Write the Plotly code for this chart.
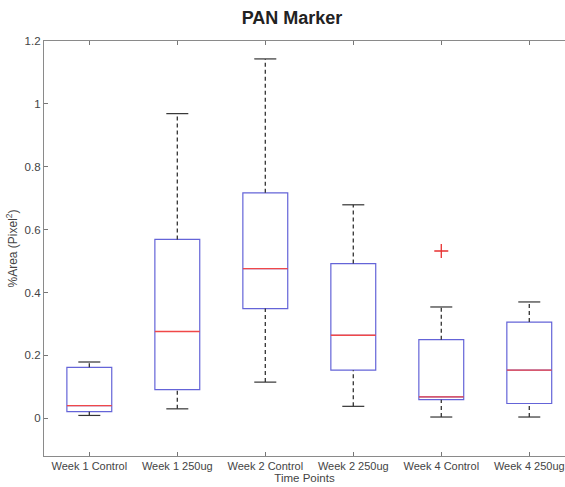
import plotly.graph_objects as go

categories = ["Week 1 Control", "Week 1 250ug", "Week 2 Control", "Week 2 250ug", "Week 4 Control", "Week 4 250ug"]
positions = [1, 2, 3, 4, 5, 6]
lower_whisker = [0.009, 0.030, 0.115, 0.038, 0.004, 0.004]
q1 = [0.021, 0.091, 0.349, 0.153, 0.059, 0.047]
median = [0.040, 0.276, 0.476, 0.264, 0.068, 0.153]
q3 = [0.162, 0.569, 0.717, 0.492, 0.250, 0.306]
upper_whisker = [0.179, 0.969, 1.143, 0.679, 0.354, 0.370]
outlier_x = [5]
outlier_y = [0.532]
y_ticks = [0, 0.2, 0.4, 0.6, 0.8, 1, 1.2]

BOX_W = 0.51
CAP_W = 0.25
FONT = "Liberation Sans, Arial, sans-serif"

fig = go.Figure()

# boxes (no whiskers: fences at quartiles)
fig.add_trace(go.Box(
    x=positions, q1=q1, median=median, q3=q3,
    lowerfence=q1, upperfence=q3,
    width=BOX_W, fillcolor="rgba(255,255,255,0)",
    line=dict(color="#6464d8", width=1.2),
    whiskerwidth=0, boxpoints=False, hoverinfo="skip", showlegend=False,
))

# dashed whiskers
wx, wy = [], []
for p, a, b, c, d in zip(positions, lower_whisker, q1, q3, upper_whisker):
    wx += [p, p, None, p, p, None]
    wy += [a, b, None, c, d, None]
fig.add_trace(go.Scatter(x=wx, y=wy, mode="lines",
                         line=dict(color="#333333", width=1.3, dash="4px,3px"),
                         hoverinfo="skip", showlegend=False))

# caps
cx, cy = [], []
for p, a, d in zip(positions, lower_whisker, upper_whisker):
    cx += [p - CAP_W / 2, p + CAP_W / 2, None, p - CAP_W / 2, p + CAP_W / 2, None]
    cy += [a, a, None, d, d, None]
fig.add_trace(go.Scatter(x=cx, y=cy, mode="lines",
                         line=dict(color="#333333", width=1.2),
                         hoverinfo="skip", showlegend=False))

# red medians
mx, my = [], []
for p, m in zip(positions, median):
    mx += [p - BOX_W / 2, p + BOX_W / 2, None]
    my += [m, m, None]
fig.add_trace(go.Scatter(x=mx, y=my, mode="lines",
                         line=dict(color="#f04848", width=1.3),
                         hoverinfo="skip", showlegend=False))

# outliers
fig.add_trace(go.Scatter(x=outlier_x, y=outlier_y, mode="markers",
                         marker=dict(symbol="cross-thin-open", size=10, color="#e83030",
                                     line=dict(color="#e83030", width=1.3)),
                         hoverinfo="skip", showlegend=False))

fig.update_layout(
    width=565, height=487,
    margin=dict(l=44, r=0, t=41, b=31),
    paper_bgcolor="white", plot_bgcolor="white",
    font=dict(family=FONT, size=11, color="#333333"),
    title=dict(text="<b>PAN Marker</b>", x=292 / 565, xanchor="center",
               y=1 - 18 / 487, yanchor="middle",
               font=dict(family=FONT, size=18, color="#222222")),
    xaxis=dict(range=[0.485, 6.406], tickvals=positions, ticktext=categories,
               showgrid=False, zeroline=False, showline=True, linecolor="#8a8a8a",
               linewidth=1.3, mirror="ticks", ticks="inside", ticklen=4,
               tickcolor="#777777", tickfont=dict(size=11, color="#444444"),
               title=dict(text="Time Points", standoff=2,
                          font=dict(size=11.5, color="#444444"))),
    yaxis=dict(range=[-0.12, 1.2], tickvals=y_ticks,
               ticktext=["0", "0.2", "0.4", "0.6", "0.8", "1", "1.2"],
               showgrid=False, zeroline=False, showline=True, linecolor="#8a8a8a",
               linewidth=1.3, mirror=False, ticks="inside", ticklen=4,
               tickcolor="#777777", tickfont=dict(size=11.5, color="#444444"),
               title=dict(text="%Area (Pixel<sup>2</sup>)", standoff=4,
                          font=dict(size=12, color="#444444"))),
)

fig.write_html("out.html")
